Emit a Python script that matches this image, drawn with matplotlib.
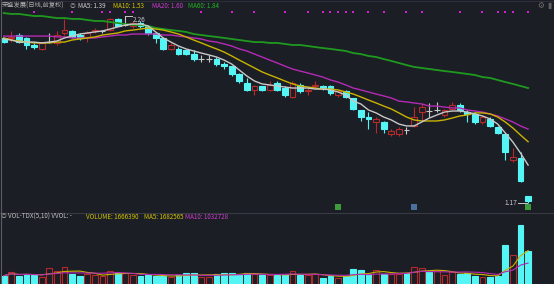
import matplotlib
matplotlib.use("Agg")
import matplotlib.pyplot as plt
import matplotlib.transforms as mtransforms
from matplotlib.lines import Line2D
import numpy as np
import pandas as pd

plt.rcParams["font.family"] = ["Noto Sans CJK SC", "DejaVu Sans"]

# daily candles, 70 sessions (prices in CNY)
opens = [2.13, 2.13, 2.15, 2.13, 2.09, 2.07, 2.11, 2.10, 2.16, 2.17,
         2.15, 2.14, 2.17, 2.17, 2.18, 2.24, 2.21, 2.20, 2.22, 2.20,
         2.16, 2.13, 2.07, 2.07, 2.06, 2.04, 2.01, 2.01, 2.01, 1.98,
         1.97, 1.92, 1.87, 1.83, 1.85, 1.83, 1.87, 1.84, 1.79, 1.86,
         1.82, 1.85, 1.85, 1.85, 1.80, 1.82, 1.78, 1.71, 1.67, 1.64,
         1.64, 1.57, 1.57, 1.60, 1.62, 1.70, 1.71, 1.71, 1.68, 1.72,
         1.74, 1.70, 1.69, 1.64, 1.66, 1.61, 1.57, 1.42, 1.43, 1.21]
highs = [2.14, 2.17, 2.16, 2.14, 2.10, 2.11, 2.16, 2.17, 2.24, 2.18,
         2.16, 2.17, 2.19, 2.18, 2.25, 2.25, 2.26, 2.23, 2.23, 2.21,
         2.16, 2.13, 2.10, 2.08, 2.06, 2.06, 2.03, 2.03, 2.02, 1.99,
         1.97, 1.93, 1.90, 1.86, 1.85, 1.88, 1.88, 1.85, 1.88, 1.87,
         1.84, 1.88, 1.86, 1.86, 1.83, 1.83, 1.78, 1.71, 1.70, 1.67,
         1.65, 1.60, 1.61, 1.61, 1.73, 1.75, 1.75, 1.76, 1.72, 1.76,
         1.75, 1.71, 1.70, 1.68, 1.67, 1.62, 1.58, 1.49, 1.47, 1.21]
lows = [2.10, 2.11, 2.10, 2.07, 2.07, 2.06, 2.10, 2.09, 2.15, 2.13,
        2.12, 2.11, 2.16, 2.16, 2.17, 2.20, 2.20, 2.19, 2.19, 2.15,
        2.10, 2.06, 2.06, 2.03, 2.03, 2.00, 1.99, 1.99, 1.97, 1.95,
        1.91, 1.87, 1.82, 1.80, 1.82, 1.82, 1.82, 1.79, 1.78, 1.81,
        1.80, 1.84, 1.83, 1.80, 1.79, 1.78, 1.71, 1.65, 1.60, 1.58,
        1.58, 1.56, 1.56, 1.57, 1.61, 1.65, 1.67, 1.70, 1.67, 1.71,
        1.70, 1.64, 1.63, 1.63, 1.61, 1.57, 1.42, 1.41, 1.29, 1.17]
closes = [2.11, 2.14, 2.11, 2.09, 2.08, 2.10, 2.11, 2.15, 2.18, 2.14,
          2.13, 2.16, 2.18, 2.17, 2.24, 2.20, 2.21, 2.22, 2.20, 2.16,
          2.13, 2.07, 2.09, 2.04, 2.04, 2.01, 2.01, 2.01, 1.98, 1.97,
          1.92, 1.88, 1.83, 1.85, 1.83, 1.86, 1.83, 1.80, 1.87, 1.82,
          1.83, 1.86, 1.84, 1.81, 1.82, 1.79, 1.72, 1.67, 1.66, 1.66,
          1.60, 1.59, 1.60, 1.598, 1.67, 1.73, 1.708, 1.71, 1.71, 1.74,
          1.71, 1.69, 1.64, 1.67, 1.62, 1.58, 1.47, 1.44, 1.30, 1.18]
volumes = [419000, 621000, 404000, 505000, 439000, 369000, 823000, 672000, 874000, 490000,
           404000, 490000, 439000, 419000, 657000, 571000, 571000, 439000, 404000, 439000,
           419000, 419000, 338000, 439000, 540000, 571000, 369000, 369000, 505000, 556000,
           540000, 470000, 571000, 505000, 439000, 439000, 430000, 470000, 641000, 439000,
           470000, 490000, 318000, 404000, 303000, 404000, 742000, 692000, 490000, 692000,
           520000, 490000, 520000, 540000, 874000, 823000, 606000, 641000, 439000, 606000,
           490000, 540000, 404000, 354000, 354000, 404000, 1954000, 1449000, 2964000, 1666390]

# moving averages as shown on the chart
ma5 = [2.126, 2.120, 2.108, 2.108, 2.108, 2.103, 2.108, 2.114, 2.132, 2.143,
       2.155, 2.161, 2.167, 2.173, 2.184, 2.196, 2.208, 2.213, 2.213, 2.202,
       2.167, 2.132, 2.108, 2.085, 2.068, 2.056, 2.044, 2.033, 2.021, 2.003,
       1.980, 1.945, 1.910, 1.881, 1.864, 1.858, 1.852, 1.846, 1.840, 1.840,
       1.840, 1.834, 1.834, 1.829, 1.817, 1.799, 1.764, 1.747, 1.712, 1.695,
       1.671, 1.654, 1.630, 1.619, 1.619, 1.642, 1.665, 1.683, 1.700, 1.706,
       1.706, 1.700, 1.689, 1.677, 1.660, 1.630, 1.578, 1.525, 1.461, 1.391]
ma10 = [2.132, 2.120, 2.114, 2.108, 2.103, 2.103, 2.103, 2.108, 2.108, 2.120,
        2.126, 2.132, 2.138, 2.149, 2.155, 2.161, 2.173, 2.178, 2.184, 2.190,
        2.184, 2.178, 2.167, 2.155, 2.138, 2.120, 2.103, 2.085, 2.068, 2.050,
        2.027, 2.003, 1.980, 1.957, 1.934, 1.916, 1.899, 1.881, 1.864, 1.852,
        1.846, 1.840, 1.834, 1.834, 1.829, 1.817, 1.805, 1.788, 1.770, 1.753,
        1.735, 1.718, 1.695, 1.671, 1.654, 1.648, 1.648, 1.648, 1.654, 1.665,
        1.677, 1.683, 1.695, 1.695, 1.689, 1.671, 1.642, 1.607, 1.566, 1.527]
ma20 = [2.143, 2.143, 2.143, 2.143, 2.143, 2.143, 2.143, 2.138, 2.138, 2.132,
        2.132, 2.132, 2.132, 2.138, 2.143, 2.149, 2.149, 2.155, 2.155, 2.155,
        2.155, 2.149, 2.149, 2.143, 2.138, 2.132, 2.126, 2.114, 2.108, 2.097,
        2.085, 2.068, 2.056, 2.038, 2.021, 2.003, 1.986, 1.968, 1.951, 1.939,
        1.928, 1.916, 1.904, 1.887, 1.875, 1.858, 1.840, 1.829, 1.817, 1.805,
        1.794, 1.782, 1.764, 1.759, 1.753, 1.747, 1.735, 1.735, 1.729, 1.724,
        1.724, 1.712, 1.706, 1.700, 1.689, 1.677, 1.660, 1.642, 1.619, 1.601]
ma60 = [2.277, 2.272, 2.272, 2.266, 2.260, 2.260, 2.254, 2.248, 2.248, 2.243,
        2.243, 2.237, 2.231, 2.231, 2.225, 2.219, 2.213, 2.208, 2.208, 2.202,
        2.190, 2.184, 2.178, 2.173, 2.167, 2.155, 2.149, 2.143, 2.138, 2.132,
        2.126, 2.120, 2.114, 2.108, 2.108, 2.103, 2.103, 2.097, 2.091, 2.091,
        2.085, 2.079, 2.073, 2.068, 2.062, 2.056, 2.044, 2.038, 2.027, 2.021,
        2.009, 1.998, 1.986, 1.974, 1.963, 1.957, 1.951, 1.945, 1.939, 1.934,
        1.928, 1.922, 1.916, 1.904, 1.899, 1.887, 1.875, 1.864, 1.852, 1.840]
vol_ma5_last = 1682565
vol_ma10_last = 1032728

signal_days = [4, 9, 13, 14, 16, 17, 26, 30, 33, 37, 40, 42, 43, 44, 45,
               46, 48, 50, 53, 55, 60, 63, 65, 66, 67, 69]
event_days = [44, 54, 69]
event_colors = ["#3d9b3d", "#4c6f9e", "#3d9b3d"]

BG = "#1b1e25"
UP = "#b52a2a"
DOWN = "#55f5f5"
FLAT = "#c8c8c8"
C_MA5 = "#c8c8c8"
C_MA10 = "#c9b300"
C_MA20 = "#b52ab5"
C_MA60 = "#1f9a1f"

o = np.array(opens)
h = np.array(highs)
l = np.array(lows)
c = np.array(closes)
v = np.array(volumes, dtype=float)
x = np.arange(len(o))

is_flat = np.abs(c - o) < 0.005
is_up = (c > o) & ~is_flat
vol_up = c >= o

W, H = 554, 284
fig = plt.figure(figsize=(W / 100, H / 100), dpi=100, facecolor=BG)
ax = fig.add_axes([0, 72 / H, 1, 212 / H], facecolor=BG)
axv = fig.add_axes([0, 0, 1, 71 / H], facecolor=BG)

xlim = (-3.7 / 7.6, (W - 3.7) / 7.6)
for a in (ax, axv):
    a.set_xlim(*xlim)
    a.set_axis_off()
ax.set_ylim(1.1173, 2.3533)
axv.set_ylim(0, 71 * 50500)

bw = 0.75
# wicks, then bodies on top (red bodies are hollow)
wick_col = np.where(is_flat, FLAT, np.where(is_up, UP, DOWN))
ax.vlines(x, l, h, colors=wick_col, linewidth=0.8, zorder=2)
bottoms = np.minimum(o, c)
heights = np.abs(c - o)
face = np.where(is_up, BG, DOWN)
edge = np.where(is_up, UP, DOWN)
nf = ~is_flat
ax.bar(x[nf], heights[nf], bw, bottom=bottoms[nf], color=face[nf],
       edgecolor=edge[nf], linewidth=0.8, zorder=3)
ax.hlines(c[is_flat], x[is_flat] - bw / 2, x[is_flat] + bw / 2,
          colors=FLAT, linewidth=0.8, zorder=3)

ax.plot(x, ma60, color=C_MA60, linewidth=1.3, zorder=4)
ax.plot(x, ma20, color=C_MA20, linewidth=1.0, zorder=4)
ax.plot(x, ma10, color=C_MA10, linewidth=1.0, zorder=4)
ax.plot(x, ma5, color=C_MA5, linewidth=1.0, zorder=4)

trans = mtransforms.blended_transform_factory(ax.transData, ax.transAxes)
ax.scatter(signal_days, [1 - 12 / 212] * len(signal_days), marker="s", s=2.5,
           color="#d21fd2", transform=trans, zorder=5, linewidths=0)
ax.scatter(event_days, [1 - 207 / 212] * len(event_days), marker="s", s=20,
           color=event_colors, transform=trans, zorder=5, linewidths=0)

# high / low labels
imax = int(np.argmax(h))
imin = int(np.argmin(l))
ax.plot([imax, imax + 0.9], [h[imax], h[imax]], color=FLAT, linewidth=0.7, zorder=5)
ax.text(imax + 0.95, h[imax], f"{h[imax]:.2f}", color=FLAT, fontsize=4.8,
        ha="left", va="top", zorder=6)
ax.plot([imin - 1.3, imin - 0.1], [l[imin], l[imin]], color=FLAT, linewidth=0.7, zorder=5)
ax.text(imin - 1.4, l[imin], f"{l[imin]:.2f}", color=FLAT, fontsize=4.8,
        ha="right", va="center", zorder=6)

# volume panel
vface = np.where(vol_up, BG, DOWN)
vedge = np.where(vol_up, UP, DOWN)
axv.bar(x, v, 0.78, color=vface, edgecolor=vedge, linewidth=0.8, zorder=2)
vma5 = pd.Series(v).rolling(5, min_periods=1).mean()
vma10 = pd.Series(v).rolling(10, min_periods=1).mean()
axv.plot(x, vma5, color=C_MA10, linewidth=0.8, zorder=3)
axv.plot(x, vma10, color=C_MA20, linewidth=0.8, zorder=3)

# frame lines
fig.add_artist(Line2D([0, 1], [1 - 213 / H] * 2, color="#383b44", linewidth=0.8))
fig.add_artist(Line2D([0.5 / W] * 2, [0, 1], color="#5a5d66", linewidth=0.8))
fig.add_artist(Line2D([0, 1], [1 - 0.5 / H] * 2, color="#2c2f38", linewidth=0.8))


def label(px, py, s, color, size=4.5):
    fig.text(px / W, 1 - py / H, s, color=color, fontsize=size, ha="left", va="center")


label(2, 6, "荣盛发展(日线,前复权)", "#b0b0b0", 4.5)
label(70, 6, "◎", "#909090", 4.2)
label(78, 6, f"MA5: {ma5[-1]:.2f}", "#d0d0d0")
label(113, 6, f"MA10: {ma10[-1]:.2f}", "#d8c600")
label(152, 6, f"MA20: {ma20[-1]:.2f}", "#cf3ccf")
label(188, 6, f"MA60: {ma60[-1]:.2f}", "#22b522")
label(537, 6, "⚙", "#707070", 5.5)
label(547, 6, "▮", "#606060", 5.5)

label(1, 217, "◎", "#909090", 4.2)
label(8, 217, "VOL-TDX(5,10) VVOL: -", "#c0c0c0")
label(86, 217, f"VOLUME: {int(v[-1])}", "#d8c600")
label(144, 217, f"MA5: {vol_ma5_last}", "#d8c600")
label(185, 217, f"MA10: {vol_ma10_last}", "#cf3ccf")

fig.savefig("out.png", dpi=100, facecolor=BG)
